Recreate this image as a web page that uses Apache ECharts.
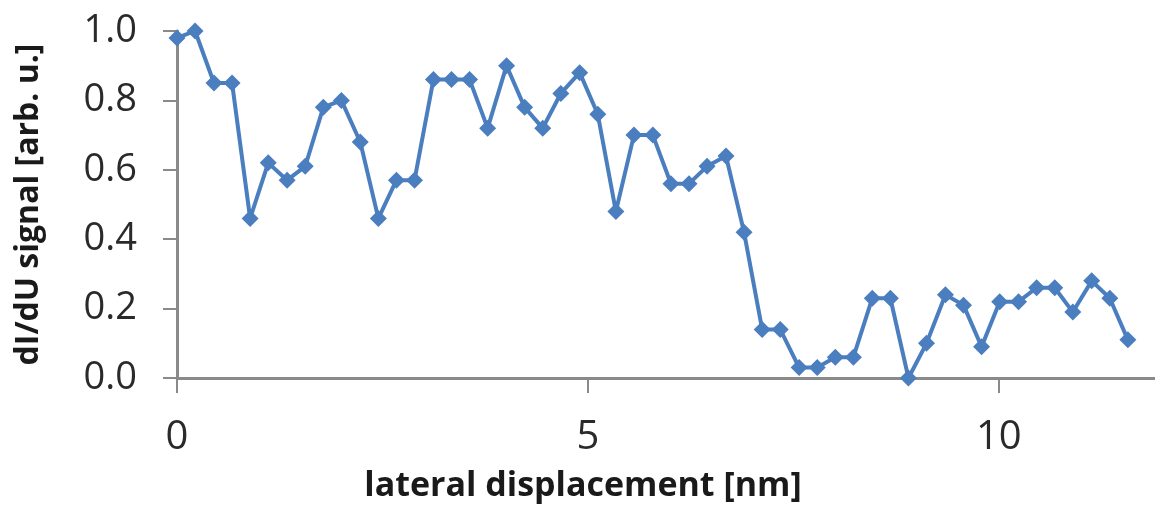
<!DOCTYPE html>
<html>
<head>
<meta charset="utf-8">
<script src="https://cdn.jsdelivr.net/npm/echarts@6/dist/echarts.min.js"></script>
<style>
html,body{margin:0;padding:0;background:#fff;}
#chart{width:1155px;height:506px;}
</style>
</head>
<body>
<div id="chart"></div>
<script>
// lateral displacement [nm]
const xValues = [0, 0.22, 0.45, 0.67, 0.89, 1.11, 1.34, 1.56, 1.78, 2.00, 2.23, 2.45, 2.67, 2.89,
  3.12, 3.34, 3.56, 3.78, 4.01, 4.23, 4.45, 4.67, 4.90, 5.12, 5.34, 5.56, 5.79, 6.01, 6.23, 6.45,
  6.68, 6.90, 7.12, 7.34, 7.57, 7.79, 8.01, 8.23, 8.46, 8.68, 8.90, 9.12, 9.35, 9.57, 9.79, 10.01,
  10.24, 10.46, 10.68, 10.90, 11.13, 11.35, 11.57];
// dI/dU signal [arb. u.]
const signal = [0.98, 1.00, 0.85, 0.85, 0.46, 0.62, 0.57, 0.61, 0.78, 0.80, 0.68, 0.46, 0.57, 0.57,
  0.86, 0.86, 0.86, 0.72, 0.90, 0.78, 0.72, 0.82, 0.88, 0.76, 0.48, 0.70, 0.70, 0.56, 0.56, 0.61,
  0.64, 0.42, 0.14, 0.14, 0.03, 0.03, 0.06, 0.06, 0.23, 0.23, 0.00, 0.10, 0.24, 0.21, 0.09, 0.22,
  0.22, 0.26, 0.26, 0.19, 0.28, 0.23, 0.11];
const xTickLabels = ['0', '5', '10'];
const yTickLabels = ['0.0', '0.2', '0.4', '0.6', '0.8', '1.0'];

const chart = echarts.init(document.getElementById('chart'));
const axisColor = '#8a8a8a';
const labelFont = '"Open Sans", "Noto Sans", sans-serif';
chart.setOption({
  animation: false,
  backgroundColor: '#ffffff',
  title: {
    text: 'lateral displacement [nm]',
    left: 578,
    top: 464,
    textAlign: 'center',
    textStyle: {fontFamily: labelFont, fontWeight: 'bold', fontSize: 34, color: '#1a1a1a'}
  },
  grid: {left: 177, right: 0, top: 31, bottom: 128, containLabel: false},
  xAxis: {
    type: 'value',
    min: 0, max: 11.9, interval: 5,
    axisLine: {show: true, lineStyle: {color: axisColor, width: 3}},
    axisTick: {show: true, length: 15, lineStyle: {color: axisColor, width: 2}},
    splitLine: {show: false},
    axisLabel: {
      margin: 40,
      showMaxLabel: false,
      fontFamily: labelFont, fontSize: 40, color: '#2a2a2a',
      formatter: function (v) { const s = String(v); return xTickLabels.indexOf(s) >= 0 ? s : ''; }
    }
  },
  yAxis: {
    type: 'value',
    min: 0, max: 1, interval: 0.2,
    name: 'dI/dU signal [arb. u.]',
    nameLocation: 'middle',
    nameGap: 132,
    nameTextStyle: {fontFamily: labelFont, fontWeight: 'bold', fontSize: 32, color: '#1a1a1a'},
    axisLine: {show: true, lineStyle: {color: axisColor, width: 3}},
    axisTick: {show: true, length: 14, lineStyle: {color: axisColor, width: 2}},
    splitLine: {show: false},
    axisLabel: {
      margin: 40,
      fontFamily: labelFont, fontSize: 38, color: '#2a2a2a',
      formatter: function (v) { return yTickLabels[Math.round(v / 0.2)]; }
    }
  },
  series: [{
    type: 'line',
    data: xValues.map((x, i) => [x, signal[i]]),
    symbol: 'diamond',
    symbolSize: 17,
    lineStyle: {color: '#4a7ebf', width: 4},
    itemStyle: {color: '#4a7ebf'},
    clip: false
  }]
});
</script>
</body>
</html>
